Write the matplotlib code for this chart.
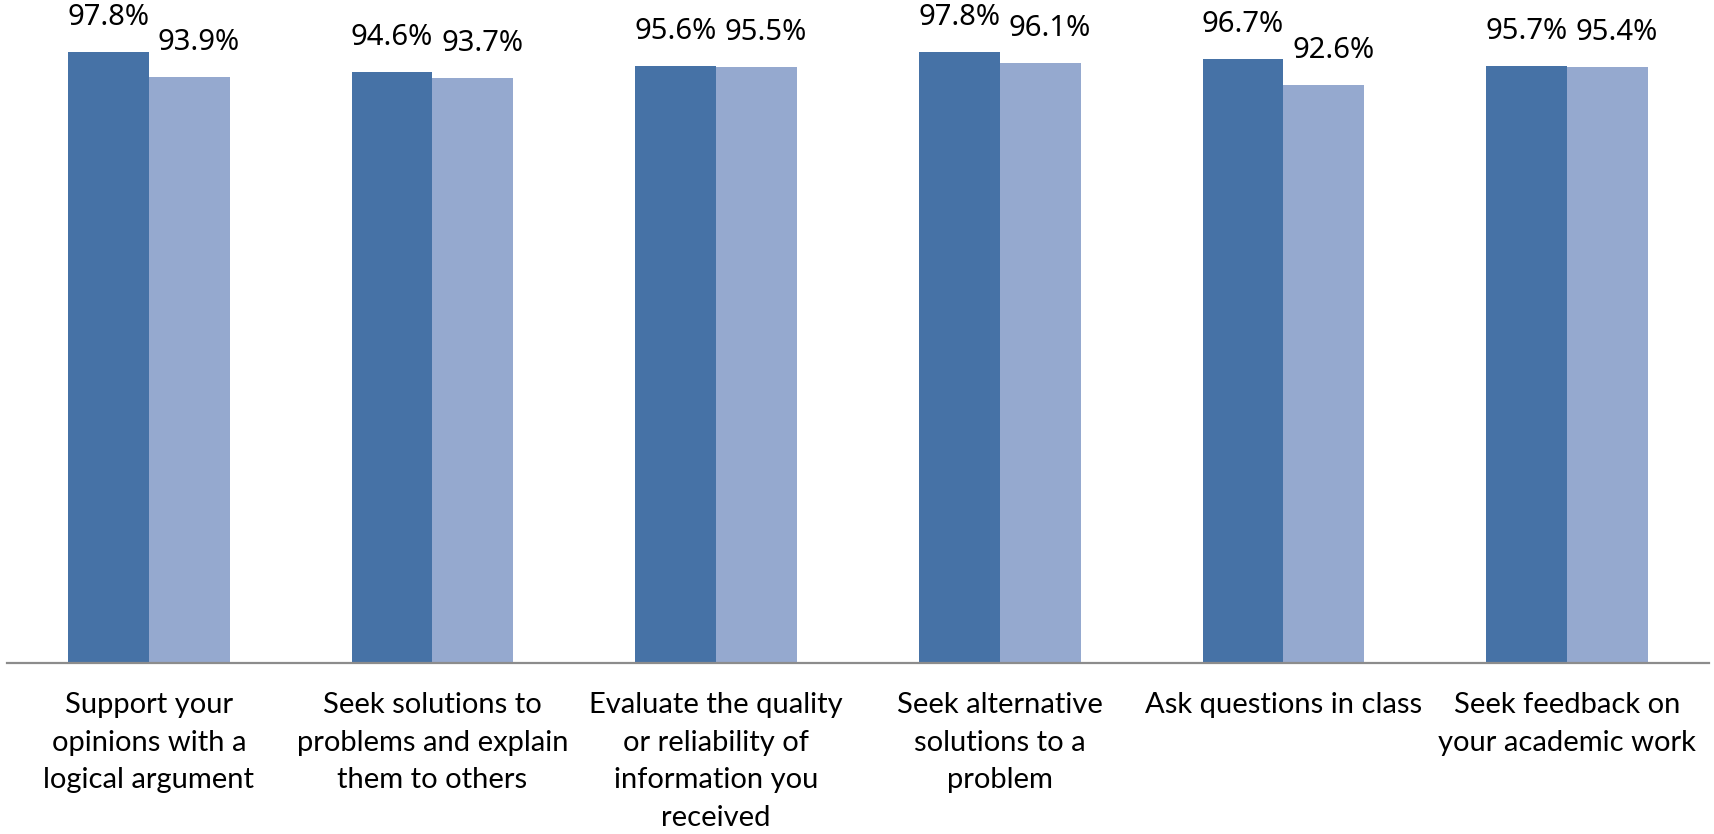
import matplotlib
matplotlib.use("Agg")
import matplotlib.pyplot as plt
import numpy as np

# ---- Data -------------------------------------------------------------------
categories = [
    "Support your\nopinions with a\nlogical argument",
    "Seek solutions to\nproblems and explain\nthem to others",
    "Evaluate the quality\nor reliability of\ninformation you\nreceived",
    "Seek alternative\nsolutions to a\nproblem",
    "Ask questions in class",
    "Seek feedback on\nyour academic work",
]
series_a = [97.8, 94.6, 95.6, 97.8, 96.7, 95.7]
series_b = [93.9, 93.7, 95.5, 96.1, 92.6, 95.4]

DARK  = "#4672A6"
LIGHT = "#95A9CF"

fig = plt.figure(figsize=(17.15, 8.34), dpi=100)
ax = fig.add_axes([7 / 1715, (834 - 663) / 834, (1709 - 7) / 1715, 663 / 834])

x = np.arange(len(categories))
w = 0.2855
bars_a = ax.bar(x - w / 2, series_a, width=w, color=DARK, edgecolor="none")
bars_b = ax.bar(x + w / 2, series_b, width=w, color=LIGHT, edgecolor="none")

# value labels (light-bar labels sit a touch to the right, as in the source)
for bars, vals, dx in [(bars_a, series_a, 0.0), (bars_b, series_b, 0.032)]:
    for b, v in zip(bars, vals):
        ax.text(b.get_x() + b.get_width() / 2 + dx, v + 3.2, f"{v:.1f}%",
                ha="center", va="bottom", fontsize=21, family="Noto Sans")

ax.set_xlim(-0.5, len(categories) - 0.5)
ax.set_ylim(0, 106.2)
ax.set_xticks(x)
ax.set_xticklabels(categories, fontsize=21, family="Lato", linespacing=1.55,
                   va="top")
ax.tick_params(axis="x", length=0, pad=21)
ax.set_yticks([])
for s in ["top", "right", "left"]:
    ax.spines[s].set_visible(False)
ax.spines["bottom"].set_color("#8c8c8c")
ax.spines["bottom"].set_linewidth(1.6)

fig.savefig("out.png", dpi=100)
